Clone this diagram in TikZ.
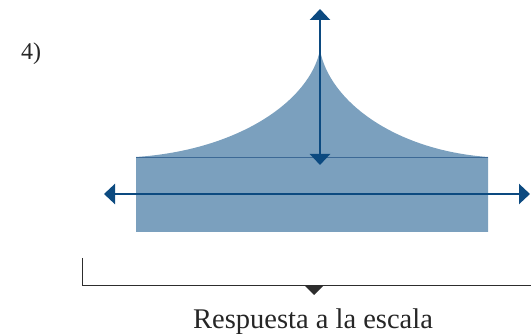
\documentclass[tikz,border=0pt]{standalone}
\usepackage{fontspec}
\setmainfont{Liberation Serif}
\usetikzlibrary{arrows.meta}
\definecolor{fillblue}{RGB}{123,160,190}
\definecolor{edgeblue}{RGB}{60,105,150}
\definecolor{arrowblue}{RGB}{12,74,128}
\definecolor{bracketgray}{RGB}{45,45,45}
\tikzset{
  dblarrow/.style={draw=arrowblue, line width=2.4pt, {Triangle[width=20pt,length=11pt]}-{Triangle[width=20pt,length=11pt]}},
  bracketline/.style={draw=bracketgray, line width=1pt},
  label/.style={inner sep=0pt, text=black!85}
}
\begin{document}
\begin{tikzpicture}[x=1pt,y=-1pt]
\useasboundingbox (0,0) rectangle (531,334);
% shape
\fill[fillblue] (136,157) .. controls (240,150) and (310,100) .. (320,50)
  .. controls (329,100) and (393,150) .. (488,157) -- (488,232) -- (136,232) -- cycle;
\draw[edgeblue, line width=0.8pt] (136,157) -- (488,157);
% arrows
\coordinate (vtop) at (320,9);
\coordinate (vbot) at (320,165);
\coordinate (hleft) at (104,194);
\coordinate (hright) at (530,194);
\draw[dblarrow] (vtop) -- (vbot);
\draw[dblarrow] (hleft) -- (hright);
% bracket
\coordinate (btop) at (82,258);
\coordinate (bcorner) at (82,286);
\coordinate (bend) at (531,286);
\draw[bracketline] (btop) -- (bcorner) -- (bend);
\fill[bracketgray] (305,286) -- (323,286) -- (314,295) -- cycle;
% labels
\node[label, anchor=base] (resp) at (313,329) {\fontsize{28.5}{32}\selectfont Respuesta a la escala};
\node[label, anchor=base west] (num) at (21,60) {\fontsize{24}{28}\selectfont 4)};
\end{tikzpicture}
\end{document}
